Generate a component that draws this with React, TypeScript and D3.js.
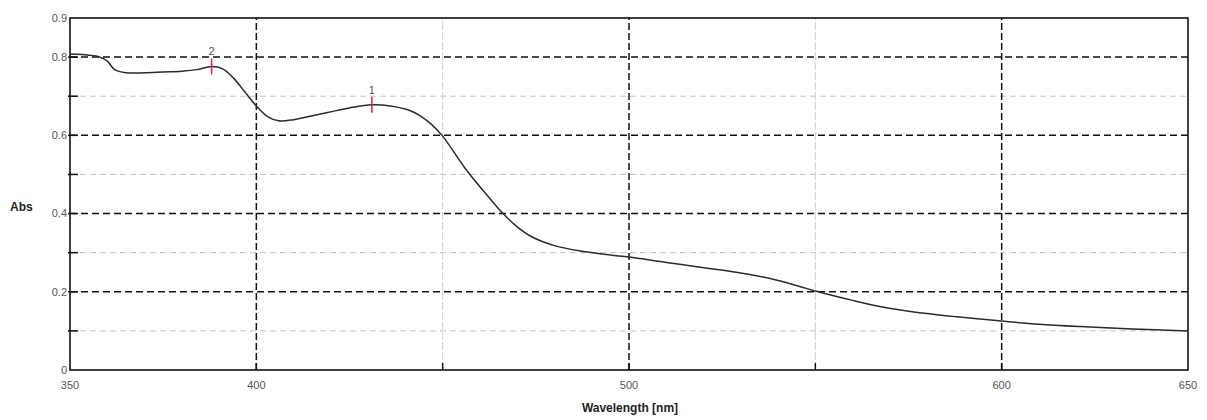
import { scaleLinear, line, curveCatmullRom } from "d3";

const width = 1207;
const height = 420;
const margin = { left: 70, right: 19, top: 18, bottom: 50 };

// spectrum
const wavelengths = [
  350, 355, 358, 360, 362, 365, 370, 375, 380, 384, 388, 391, 394, 397, 400, 403, 406, 410, 416, 425,
  431, 436, 441, 444, 447, 450, 456, 462, 466, 470, 474, 480, 487, 495, 500, 510, 519, 532, 540, 546,
  550, 560, 568, 576, 588, 600, 610, 621, 635, 650,
];
const absorbance = [
  0.808, 0.805, 0.8, 0.79, 0.768, 0.76, 0.76, 0.762, 0.764, 0.768, 0.776, 0.77, 0.745, 0.71, 0.675,
  0.648, 0.637, 0.64, 0.652, 0.67, 0.678, 0.675, 0.664, 0.65, 0.628, 0.598, 0.516, 0.446, 0.402, 0.366,
  0.34, 0.318, 0.304, 0.294, 0.289, 0.275, 0.263, 0.245, 0.229, 0.213, 0.202, 0.178, 0.161, 0.149, 0.136,
  0.125, 0.117, 0.111, 0.105, 0.1,
];

const peakLabels = ["1", "2"];
const peakWavelengths = [431, 388];
const peakValues = [0.678, 0.776];

const xMajor = [400, 500, 600];
const xMinor = [450, 550];
const xTickLabels = [350, 400, 500, 600, 650];
const yMajor = [0.2, 0.4, 0.6, 0.8];
const yMinor = [0.1, 0.3, 0.5, 0.7];
const yTickLabels = ["0", "0.2", "0.4", "0.6", "0.8", "0.9"];

export default function App() {
  const x = scaleLinear().domain([350, 650]).range([margin.left, width - margin.right]);
  const y = scaleLinear().domain([0, 0.9]).range([height - margin.bottom, margin.top]);
  const x0 = x.range()[0];
  const x1 = x.range()[1];
  const y0 = y.range()[0];
  const y1 = y.range()[1];

  const pts = wavelengths.map((w, i) => [w, absorbance[i]] as [number, number]);
  const path = line<[number, number]>()
    .x((d) => x(d[0]))
    .y((d) => y(d[1]))
    .curve(curveCatmullRom.alpha(0.5))(pts);

  const font = "'Liberation Sans', Arial, sans-serif";

  return (
    <svg
      width={width}
      height={height}
      style={{ position: "absolute", left: 0, top: 0, background: "#fff" }}
      fontFamily={font}
    >
      {/* light grid */}
      {yMinor.map((v) => (
        <line key={"ym" + v} x1={x0} x2={x1} y1={y(v)} y2={y(v)} stroke="#c4c4c4" strokeWidth={1} strokeDasharray="6,4" />
      ))}
      {xMinor.map((v) => (
        <line key={"xm" + v} x1={x(v)} x2={x(v)} y1={y0} y2={y1} stroke="#d0d0d0" strokeWidth={1} strokeDasharray="8,2" />
      ))}
      {/* major grid */}
      {yMajor.map((v) => (
        <line key={"yM" + v} x1={x0} x2={x1} y1={y(v)} y2={y(v)} stroke="#111" strokeWidth={1.5} strokeDasharray="7,4" />
      ))}
      {xMajor.map((v) => (
        <line key={"xM" + v} x1={x(v)} x2={x(v)} y1={y0} y2={y1} stroke="#111" strokeWidth={1.5} strokeDasharray="7,3" />
      ))}

      {/* ticks */}
      {yMajor.concat(yMinor).map((v) => (
        <line key={"yt" + v} x1={x0 - 2} x2={x0 + 8} y1={y(v)} y2={y(v)} stroke="#111" strokeWidth={1.5} />
      ))}
      {xMajor.concat(xMinor).map((v) => (
        <line key={"xt" + v} x1={x(v)} x2={x(v)} y1={y0} y2={y0 - 7} stroke="#111" strokeWidth={1.5} />
      ))}

      {/* frame */}
      <rect x={x0} y={y1} width={x1 - x0} height={y0 - y1} fill="none" stroke="#111" strokeWidth={1.6} />

      {/* spectrum */}
      <path d={path ?? ""} fill="none" stroke="#2b2b2b" strokeWidth={1.5} />

      {/* peak markers */}
      {peakLabels.map((lab, i) => (
        <g key={"pk" + lab}>
          <line
            x1={x(peakWavelengths[i])}
            x2={x(peakWavelengths[i])}
            y1={y(peakValues[i]) - 8}
            y2={y(peakValues[i]) + 8}
            stroke="#e0204a"
            strokeWidth={1.5}
          />
          <text x={x(peakWavelengths[i])} y={y(peakValues[i]) - 11} textAnchor="middle" fontSize={11} fill="#555">
            {lab}
          </text>
        </g>
      ))}

      {/* tick labels */}
      {yTickLabels.map((t) => (
        <text key={"yl" + t} x={x0 - 3} y={y(+t)} dy="0.35em" textAnchor="end" fontSize={11} fill="#555">
          {t}
        </text>
      ))}
      {xTickLabels.map((t) => (
        <text key={"xl" + t} x={x(t)} y={y0 + 15} dy="0.35em" textAnchor="middle" fontSize={11} fill="#555">
          {t}
        </text>
      ))}

      {/* axis titles */}
      <text x={(x0 + x1) / 2 + 1} y={y0 + 38} dy="0.35em" textAnchor="middle" fontSize={12} fontWeight="bold" fill="#222">
        Wavelength [nm]
      </text>
      <text x={10} y={y(0.4) - 7} dy="0.35em" fontSize={12} fontWeight="bold" fill="#222">
        Abs
      </text>
    </svg>
  );
}
